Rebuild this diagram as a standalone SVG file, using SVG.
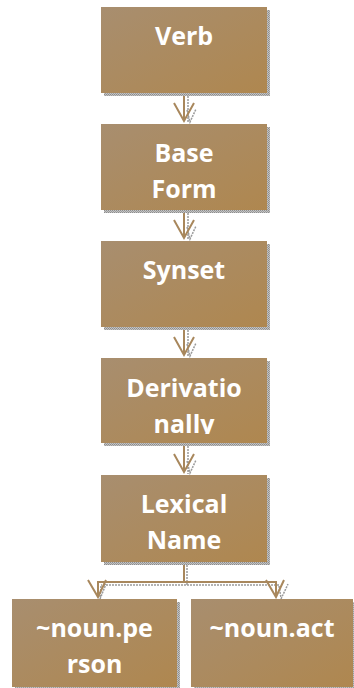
<svg xmlns="http://www.w3.org/2000/svg" width="354" height="688" viewBox="0 0 354 688">
<style>
.box{fill:url(#g)}
.sh{fill:url(#st)}
.t{font-family:"Open Sans","Liberation Sans",sans-serif;font-weight:bold;font-size:25px;fill:#fff;text-anchor:middle}
.c{fill:none;stroke:#A8875C;stroke-width:2}
.cs{fill:none;stroke:#9a9a9a;stroke-width:1.5;stroke-dasharray:2 1}
</style>
<defs>
<linearGradient id="g" x1="0" y1="0" x2="1" y2="1">
<stop offset="0" stop-color="#A88E6F"/>
<stop offset="1" stop-color="#AF874F"/>
</linearGradient>
<pattern id="st" width="2" height="2" patternUnits="userSpaceOnUse">
<rect width="2" height="2" fill="#c4c4c4"/>
<rect width="1" height="1" fill="#8c8c8c"/>
<rect x="1" y="1" width="1" height="1" fill="#9c9c9c"/>
</pattern>
<clipPath id="cd"><rect x="101" y="358" width="166" height="76"/></clipPath>
</defs>
<g id="connectors">
<path class="cs" d="M188 96V123M187 110L190 122L196 109"/>
<path class="c" d="M184 93V120M174 103L184 121L194 103"/>
<path class="cs" d="M188 213V240M187 227L190 239L196 226"/>
<path class="c" d="M184 210V237M174 220L184 238L194 220"/>
<path class="cs" d="M188 330V357M187 344L190 356L196 343"/>
<path class="c" d="M184 327V354M174 337L184 355L194 337"/>
<path class="cs" d="M188 446V474M187 461L190 473L196 460"/>
<path class="c" d="M184 443V471M174 454L184 472L194 454"/>
<path class="cs" d="M187 565V585H101M187 585H279M101 586L100 598M279 586L281 598M100 599L106 584M281 599L288 584"/>
<path class="c" d="M184 562V582H98V596M184 582H276V596M88 580L98 597L106 580M266 580L276 597L284 580"/>
</g>
<g id="verb"><rect class="sh" x="104" y="10" width="166" height="86"/><rect class="box" x="101" y="7" width="166" height="86"/><text class="t" x="184" y="45">Verb</text></g>
<g id="baseform"><rect class="sh" x="104" y="127" width="166" height="86"/><rect class="box" x="101" y="124" width="166" height="86"/><text class="t" x="184" y="162">Base</text><text class="t" x="184" y="198">Form</text></g>
<g id="synset"><rect class="sh" x="104" y="244" width="166" height="86"/><rect class="box" x="101" y="241" width="166" height="86"/><text class="t" x="184" y="279">Synset</text></g>
<g id="derivationally"><rect class="sh" x="104" y="361" width="166" height="85"/><rect class="box" x="101" y="358" width="166" height="85"/><g clip-path="url(#cd)"><text class="t" x="184" y="397">Derivatio</text><text class="t" x="184" y="433">nally</text></g></g>
<g id="lexicalname"><rect class="sh" x="104" y="478" width="166" height="87"/><rect class="box" x="101" y="475" width="166" height="87"/><text class="t" x="184" y="513">Lexical</text><text class="t" x="184" y="549">Name</text></g>
<g id="nounperson"><rect class="sh" x="15" y="602" width="165" height="88"/><rect class="box" x="12" y="599" width="165" height="88"/><text class="t" x="94.5" y="637">~noun.pe</text><text class="t" x="94.5" y="673">rson</text></g>
<g id="nounact"><rect class="sh" x="194" y="602" width="162" height="88"/><rect class="box" x="191" y="599" width="162" height="88"/><text class="t" x="272" y="637">~noun.act</text></g>
</svg>
